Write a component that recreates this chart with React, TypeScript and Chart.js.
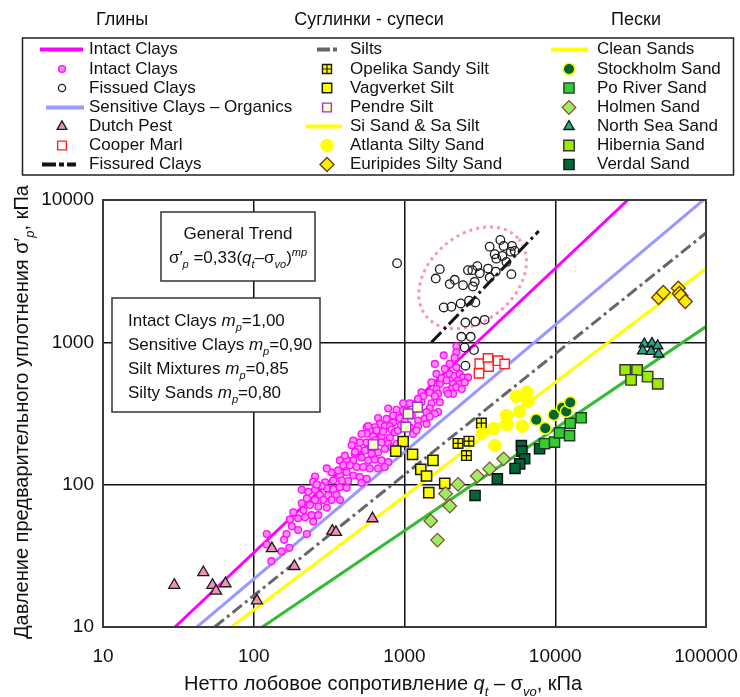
import React, { useEffect, useRef } from "react";
import { Chart, registerables } from "chart.js";

Chart.register(...registerables);

const FONT = '"Liberation Sans", Arial, Helvetica, sans-serif';

// ---- axes ----
const X_TICKS = [10, 100, 1000, 10000, 100000];
const Y_TICKS = [10, 100, 1000, 10000];
const X_LABELS = ["10", "100", "1000", "10000", "100000"];
const Y_LABELS = ["10", "100", "1000", "10000"];

type P = [number, number];

// ---- trend lines (end points) ----
const intactLine: P[] = [[30, 10], [30300, 10000]];
const sensitiveLine: P[] = [[42, 10], [96000, 10000]];
const siltsLine: P[] = [[55, 10], [100000, 5870]];
const siSandLine: P[] = [[71, 10], [100000, 3300]];
const cleanSandLine: P[] = [[114, 10], [100000, 1290]];
const fissuredLine: P[] = [[1510, 1000], [7780, 6050]];

// ---- data sets ----
const intactClays: P[] = [
  [2210, 936], [2210, 850], [2150, 780], [1820, 810], [1590, 705], [1995, 705], [2210, 667], [1850, 650],
  [1630, 600], [1995, 600], [2150, 580], [2323, 600], [2440, 567], [2640, 567], [2260, 538], [2100, 510],
  [2323, 510], [2510, 523], [2050, 471], [2210, 484], [1900, 458], [2100, 435], [1945, 435], [1510, 523],
  [1714, 510], [1471, 445], [1630, 471], [1670, 436], [1295, 445], [1330, 418], [1587, 418],
  [1510, 373], [1714, 380], [1471, 344], [1670, 324], [1587, 315], [1295, 379], [1200, 341], [1400, 323],
  [1360, 290], [1471, 300], [1230, 282], [1400, 267], [1230, 258], [980, 373], [1084, 373], [885, 336],
  [980, 332], [780, 343], [840, 306], [668, 294], [760, 290], [840, 273], [931, 294], [686, 267], [740, 258],
  [636, 253], [561, 253], [589, 240], [652, 240], [799, 258], [820, 244], [561, 228], [620, 218], [704, 218],
  [799, 214], [1140, 227], [1200, 240], [1084, 253], [574, 258], [722, 236], [862, 233], [519, 227],
  [779, 193], [704, 198], [561, 198], [506, 198], [457, 204],
  [446, 189], [493, 178], [546, 174], [668, 169], [740, 178], [604, 165], [373, 148], [413, 150], [457, 148],
  [519, 155], [574, 148], [636, 150], [704, 148], [392, 137], [434, 137], [481, 133], [532, 133], [589, 130],
  [668, 130], [328, 122], [373, 116], [413, 122], [457, 116], [506, 113], [561, 110], [255, 114], [248, 105],
  [297, 104], [337, 107], [423, 106], [519, 103], [402, 160], [468, 165], [305, 130],
  [305, 94], [337, 93], [373, 96], [413, 95], [255, 92], [208, 92], [275, 85], [312, 84], [354, 85], [225, 80],
  [255, 78], [289, 78], [328, 78], [236, 72], [268, 70], [305, 69], [208, 74], [214, 66], [183, 64], [197, 58],
  [174, 57], [219, 59], [179, 51], [197, 48], [165, 45], [159, 41], [153, 34], [122, 45], [122, 38], [131, 29],
  [242, 61], [248, 55], [268, 61], [225, 45], [172, 36],
  [820, 183], [885, 193], [779, 144], [740, 133], [363, 126], [384, 107], [230, 89], [373, 78], [907, 240],
  [1005, 282], [1118, 306], [1760, 560], [1900, 540], [2400, 470], [1230, 400], [1050, 310], [950, 262],
  [640, 205], [470, 170], [620, 185], [282, 98], [262, 100],
];

const fissuredClays: P[] = [
  [893, 3597], [1714, 3266], [1611, 2806], [1995, 2565], [2153, 2750], [2444, 2523], [2845, 2468], [2922, 2660],
  [2636, 3214], [2818, 3214], [3041, 3428], [3155, 3062], [3581, 3297], [4027, 3141], [3672, 2853], [3672, 4700],
  [4323, 5234], [4545, 4754], [5164, 4754], [3963, 4160], [4064, 3873], [4456, 4045], [4742, 3675], [5063, 4338],
  [5380, 4385], [5116, 3013], [1820, 1758], [2047, 1778], [2358, 1876], [2679, 1959], [2952, 1905], [2535, 1377],
  [2952, 1400], [3401, 1439], [2383, 1094], [2748, 1094], [2506, 920], [2891, 883], [2535, 685],
];

const dutchPest: P[] = [
  [29.7, 19.7], [46.3, 24.2], [53.2, 19.7], [56.2, 17.9], [64.9, 20.2], [105, 15.3], [132, 35.6],
  [186, 26.7], [332, 47.3], [351, 46.3], [613, 57.8],
];
const cooperMarl: P[] = [[3155, 708], [3120, 605], [3580, 771], [3615, 675], [4165, 743], [4617, 705]];
const opelika: P[] = [[3236, 271], [2265, 195], [2674, 202], [2576, 160]];
const vagverket: P[] = [
  [980, 201], [875, 172], [1130, 163], [1545, 148], [1282, 128], [1400, 115], [1849, 102], [1449, 88],
];
const pendre: P[] = [[620, 191], [1057, 315], [1219, 350], [1021, 254]];
const atlanta: P[] = [
  [5520, 416], [6490, 446], [6590, 385], [4740, 306], [5800, 326], [4790, 265], [6040, 258], [3920, 247],
  [3265, 230], [3980, 188],
];
const euripides: P[] = [[48500, 2066], [52100, 2239], [65500, 2400], [66500, 2203], [68200, 2123], [72900, 1935]];
const stockholm: P[] = [[7480, 286], [8590, 249], [9790, 310], [11130, 347], [11830, 327], [12570, 378]];
const poRiver: P[] = [[8490, 194], [9890, 199], [10670, 231], [12440, 221], [12570, 270], [14860, 295]];
const holmen: P[] = [
  [1493, 55.6], [1655, 40.8], [1871, 86.5], [1997, 70.8], [2265, 100.5], [3035, 115], [3670, 129], [4545, 152],
];
const northSea: P[] = [[39000, 973], [43850, 982], [47800, 946], [38000, 873], [43250, 863], [48550, 828]];
const hibernia: P[] = [[29100, 640], [34900, 640], [31860, 545], [41000, 574], [47840, 511]];
const verdal: P[] = [
  [5960, 188], [6010, 172], [6270, 152], [5810, 140], [5410, 130], [7870, 179], [4130, 110], [2937, 84],
];

// dotted ellipse round the fissured clays (centre in data units, radii in decades)
const ELLIPSE_CENTER: P = [2830, 2840];
const ELLIPSE_R = [0.4, 0.285];
const ELLIPSE_ANGLE = -40;

// ---- styles ----
type Shape = "circle" | "rect" | "triangle" | "diamond";
type MStyle = { shape: Shape; r: number; fill: string; stroke: string; lw: number; cross?: boolean };

const M_INTACT: MStyle = { shape: "circle", r: 3.4, fill: "#ff8cf2", stroke: "#ff10ff", lw: 1.4 };
const M_FISSURED: MStyle = { shape: "circle", r: 4.3, fill: "rgba(255,255,255,0)", stroke: "#1a1a1a", lw: 1.3 };
const M_DUTCH: MStyle = { shape: "triangle", r: 6.4, fill: "#f08fb8", stroke: "#1a1a1a", lw: 1.3 };
const M_COOPER: MStyle = { shape: "rect", r: 6.6, fill: "#ffffff", stroke: "#ff2020", lw: 1.4 };
const M_OPELIKA: MStyle = { shape: "rect", r: 6.8, fill: "#ffff00", stroke: "#1a1a1a", lw: 1.4, cross: true };
const M_VAG: MStyle = { shape: "rect", r: 7.2, fill: "#ffff00", stroke: "#1a1a1a", lw: 1.5 };
const M_PENDRE: MStyle = { shape: "rect", r: 6.8, fill: "#ffffcc", stroke: "#9933cc", lw: 1.4 };
const M_ATLANTA: MStyle = { shape: "circle", r: 6.3, fill: "#ffff00", stroke: "#ffff00", lw: 1 };
const M_EURIP: MStyle = { shape: "diamond", r: 7, fill: "#ffee00", stroke: "#6b3a10", lw: 1.3 };
const M_STOCK: MStyle = { shape: "circle", r: 5.8, fill: "#006633", stroke: "#ffff00", lw: 1.5 };
const M_PO: MStyle = { shape: "rect", r: 7.2, fill: "#33cc33", stroke: "#1f3d1f", lw: 1.4 };
const M_HOLMEN: MStyle = { shape: "diamond", r: 6.8, fill: "#99ee66", stroke: "#8a4a2a", lw: 1.2 };
const M_NORTH: MStyle = { shape: "triangle", r: 6, fill: "#22aa88", stroke: "#111111", lw: 1.3 };
const M_HIB: MStyle = { shape: "rect", r: 7.4, fill: "#99ee00", stroke: "#333333", lw: 1.4 };
const M_VERDAL: MStyle = { shape: "rect", r: 7.2, fill: "#006633", stroke: "#111111", lw: 1.4 };

const C_MAGENTA = "#ff00ff";
const C_LAVENDER = "#9999ff";
const C_GRAY = "#666666";
const C_YELLOW = "#ffff00";
const C_GREEN = "#33bb33";
const C_BLACK = "#141414";
const DASH_GRAY = [12, 4, 3, 4];
const DASH_BLACK = [14, 4, 3, 4];

const pts = (a: P[]) => a.map(([x, y]) => ({ x, y }));
const PSTYLE: Record<Shape, string> = { circle: "circle", rect: "rect", triangle: "triangle", diamond: "rectRot" };

function scatterDs(label: string, data: P[], m: MStyle, order = 0) {
  return {
    label,
    data: pts(data),
    showLine: false,
    pointStyle: PSTYLE[m.shape],
    pointRadius: m.r,
    pointHoverRadius: m.r,
    pointBackgroundColor: m.fill,
    pointBorderColor: m.stroke,
    pointBorderWidth: m.lw,
    backgroundColor: m.fill,
    borderColor: m.stroke,
    order,
  };
}
function lineDs(label: string, data: P[], color: string, dash: number[] = []) {
  return {
    label,
    data: pts(data),
    showLine: true,
    pointRadius: 0,
    pointHoverRadius: 0,
    borderColor: color,
    borderWidth: 3,
    borderDash: dash,
    fill: false,
    order: 10,
  };
}

// ---- rich text ----
type Seg = { t: string; it?: boolean; sub?: boolean; sup?: boolean };
function segFont(s: Seg, size: number) {
  const sz = s.sub || s.sup ? Math.round(size * 0.66) : size;
  return `${s.it ? "italic " : ""}${sz}px ${FONT}`;
}
function richWidth(ctx: CanvasRenderingContext2D, segs: Seg[], size: number) {
  let w = 0;
  for (const s of segs) {
    ctx.font = segFont(s, size);
    w += ctx.measureText(s.t).width;
  }
  return w;
}
function drawRich(ctx: CanvasRenderingContext2D, segs: Seg[], x: number, y: number, size: number, align: "left" | "center") {
  const w = richWidth(ctx, segs, size);
  let cx = align === "center" ? x - w / 2 : x;
  ctx.textAlign = "left";
  ctx.textBaseline = "alphabetic";
  for (const s of segs) {
    ctx.font = segFont(s, size);
    const dy = s.sub ? size * 0.3 : s.sup ? -size * 0.42 : 0;
    ctx.fillText(s.t, cx, y + dy);
    cx += ctx.measureText(s.t).width;
  }
}

function drawMarker(ctx: CanvasRenderingContext2D, m: MStyle, x: number, y: number) {
  ctx.save();
  ctx.setLineDash([]);
  ctx.beginPath();
  const r = m.r;
  if (m.shape === "circle") ctx.arc(x, y, r, 0, Math.PI * 2);
  else if (m.shape === "rect") {
    const s = r * Math.SQRT1_2;
    ctx.rect(x - s, y - s, 2 * s, 2 * s);
  } else if (m.shape === "triangle") {
    ctx.moveTo(x, y - r);
    ctx.lineTo(x + r * 0.866, y + r / 2);
    ctx.lineTo(x - r * 0.866, y + r / 2);
    ctx.closePath();
  } else {
    ctx.moveTo(x - r, y);
    ctx.lineTo(x, y - r);
    ctx.lineTo(x + r, y);
    ctx.lineTo(x, y + r);
    ctx.closePath();
  }
  ctx.fillStyle = m.fill;
  ctx.fill();
  ctx.lineWidth = m.lw;
  ctx.strokeStyle = m.stroke;
  ctx.stroke();
  if (m.cross) {
    const s = r * Math.SQRT1_2;
    ctx.beginPath();
    ctx.moveTo(x - s, y);
    ctx.lineTo(x + s, y);
    ctx.moveTo(x, y - s);
    ctx.lineTo(x, y + s);
    ctx.lineWidth = 1.2;
    ctx.stroke();
  }
  ctx.restore();
}

function drawLegendLine(ctx: CanvasRenderingContext2D, x0: number, x1: number, y: number, color: string, dash: number[] = [], lw = 4) {
  ctx.save();
  ctx.beginPath();
  ctx.setLineDash(dash);
  ctx.moveTo(x0, y);
  ctx.lineTo(x1, y);
  ctx.strokeStyle = color;
  ctx.lineWidth = lw;
  ctx.stroke();
  ctx.restore();
}

type LegendItem = { text: string; line?: { color: string; dash?: number[]; x0: number; x1: number }; marker?: MStyle };

const LEGEND_ROWS = [49.5, 69, 88, 107.5, 126.5, 145.5, 164.5];
const LEGEND_COLS: { mx: number; tx: number; items: LegendItem[] }[] = [
  {
    mx: 62,
    tx: 89,
    items: [
      { text: "Intact Clays", line: { color: C_MAGENTA, x0: 40, x1: 83 } },
      { text: "Intact Clays", marker: M_INTACT },
      { text: "Fissued Clays", marker: { ...M_FISSURED, r: 3.6 } },
      { text: "Sensitive Clays – Organics", line: { color: C_LAVENDER, x0: 46, x1: 84 } },
      { text: "Dutch Pest", marker: { ...M_DUTCH, r: 5.6 } },
      { text: "Cooper Marl", marker: { ...M_COOPER, r: 6.2 } },
      { text: "Fissured Clays", line: { color: C_BLACK, dash: [14, 3, 5, 3], x0: 42, x1: 76 } },
    ],
  },
  {
    mx: 327,
    tx: 350,
    items: [
      { text: "Silts", line: { color: C_GRAY, dash: [13, 3, 4, 50], x0: 317, x1: 338 } },
      { text: "Opelika Sandy Silt", marker: { ...M_OPELIKA, r: 6.4 } },
      { text: "Vagverket Silt", marker: { ...M_VAG, r: 6.6 } },
      { text: "Pendre Silt", marker: { ...M_PENDRE, r: 6.2 } },
      { text: "Si Sand & Sa Silt", line: { color: C_YELLOW, x0: 306, x1: 342 } },
      { text: "Atlanta Silty Sand", marker: M_ATLANTA },
      { text: "Euripides Silty Sand", marker: M_EURIP },
    ],
  },
  {
    mx: 569,
    tx: 597,
    items: [
      { text: "Clean Sands", line: { color: C_YELLOW, x0: 551, x1: 588 } },
      { text: "Stockholm Sand", marker: M_STOCK },
      { text: "Po River Sand", marker: M_PO },
      { text: "Holmen Sand", marker: M_HOLMEN },
      { text: "North Sea Sand", marker: M_NORTH },
      { text: "Hibernia Sand", marker: M_HIB },
      { text: "Verdal Sand", marker: M_VERDAL },
    ],
  },
];
const HEADERS: { text: string; x: number }[] = [
  { text: "Глины", x: 122 },
  { text: "Суглинки - супеси", x: 369 },
  { text: "Пески", x: 636 },
];

const decor = {
  id: "decor",
  beforeDatasetsDraw(chart: any) {
    const { ctx, scales } = chart;
    const x = scales.x;
    const y = scales.y;
    const dec = x.getPixelForValue(100) - x.getPixelForValue(10);
    ctx.save();
    ctx.beginPath();
    ctx.ellipse(
      x.getPixelForValue(ELLIPSE_CENTER[0]),
      y.getPixelForValue(ELLIPSE_CENTER[1]),
      ELLIPSE_R[0] * dec,
      ELLIPSE_R[1] * dec,
      (ELLIPSE_ANGLE * Math.PI) / 180,
      0,
      Math.PI * 2
    );
    ctx.setLineDash([3, 4]);
    ctx.lineWidth = 3;
    ctx.strokeStyle = "#ff8fc8";
    ctx.stroke();
    ctx.restore();
  },
  afterDatasetsDraw(chart: any) {
    const { ctx, chartArea: a } = chart;
    ctx.save();
    // plot frame
    ctx.strokeStyle = "#3a3a3a";
    ctx.lineWidth = 2;
    ctx.strokeRect(a.left, a.top, a.right - a.left, a.bottom - a.top);

    // text boxes
    ctx.fillStyle = "#ffffff";
    ctx.strokeStyle = "#333333";
    ctx.lineWidth = 1.5;
    ctx.fillRect(161, 212, 154, 69);
    ctx.strokeRect(161, 212, 154, 69);
    ctx.fillRect(112, 298, 208, 114);
    ctx.strokeRect(112, 298, 208, 114);

    ctx.fillStyle = "#111111";
    ctx.font = `17px ${FONT}`;
    ctx.textAlign = "center";
    ctx.textBaseline = "alphabetic";
    ctx.fillText("General Trend", 238, 239);
    drawRich(
      ctx,
      [
        { t: "σ′" },
        { t: "p", it: true, sub: true },
        { t: " =0,33(" },
        { t: "q", it: true },
        { t: "t", it: true, sub: true },
        { t: "–σ" },
        { t: "vo", it: true, sub: true },
        { t: ")" },
        { t: "mp", it: true, sup: true },
      ],
      238,
      263,
      17,
      "center"
    );
    const rows: [string, string][] = [
      ["Intact Clays ", "=1,00"],
      ["Sensitive Clays ", "=0,90"],
      ["Silt Mixtures ", "=0,85"],
      ["Silty Sands ", "=0,80"],
    ];
    rows.forEach(([a1, b1], i) => {
      drawRich(ctx, [{ t: a1 }, { t: "m", it: true }, { t: "p", it: true, sub: true }, { t: b1 }], 128, 326 + i * 24, 17, "left");
    });
    ctx.restore();
  },
  afterDraw(chart: any) {
    const { ctx, scales } = chart;
    const x = scales.x;
    const y = scales.y;
    ctx.save();
    ctx.fillStyle = "#111111";
    // tick labels
    ctx.font = `19px ${FONT}`;
    ctx.textAlign = "center";
    ctx.textBaseline = "middle";
    X_TICKS.forEach((v, i) => ctx.fillText(X_LABELS[i], x.getPixelForValue(v), 657));
    ctx.textAlign = "right";
    Y_TICKS.forEach((v, i) => ctx.fillText(Y_LABELS[i], 94, y.getPixelForValue(v)));

    // axis titles
    drawRich(
      ctx,
      [
        { t: "Нетто лобовое сопротивление " },
        { t: "q", it: true },
        { t: "t", it: true, sub: true },
        { t: " – σ" },
        { t: "vo", it: true, sub: true },
        { t: ", кПа" },
      ],
      383,
      690,
      20,
      "center"
    );
    ctx.save();
    ctx.translate(28, 412);
    ctx.rotate(-Math.PI / 2);
    drawRich(
      ctx,
      [{ t: "Давление предварительного уплотнения σ′" }, { t: "p", it: true, sub: true }, { t: ", кПа" }],
      0,
      0,
      20,
      "center"
    );
    ctx.restore();

    // legend headers
    ctx.font = `18px ${FONT}`;
    ctx.textAlign = "center";
    ctx.textBaseline = "middle";
    HEADERS.forEach((h) => ctx.fillText(h.text, h.x, 20));

    // legend box
    ctx.strokeStyle = "#222222";
    ctx.lineWidth = 1.5;
    ctx.strokeRect(22.5, 38, 711, 137);

    LEGEND_COLS.forEach((col) => {
      col.items.forEach((it, i) => {
        const yy = LEGEND_ROWS[i];
        if (it.line) drawLegendLine(ctx, it.line.x0, it.line.x1, yy, it.line.color, it.line.dash || []);
        if (it.marker) drawMarker(ctx, it.marker, col.mx, yy);
        ctx.fillStyle = "#111111";
        ctx.font = `17px ${FONT}`;
        ctx.textAlign = "left";
        ctx.textBaseline = "middle";
        ctx.fillText(it.text, col.tx, yy);
      });
    });
    ctx.restore();
  },
};

export default function App() {
  const ref = useRef<HTMLCanvasElement>(null);
  useEffect(() => {
    if (!ref.current) return;
    const datasets: any[] = [
      // crosses of the Opelika squares on top
      {
        label: "Opelika cross",
        data: pts(opelika),
        showLine: false,
        pointStyle: "cross",
        pointRadius: M_OPELIKA.r * Math.SQRT1_2,
        pointHoverRadius: M_OPELIKA.r * Math.SQRT1_2,
        pointBorderColor: "#111111",
        pointBorderWidth: 1.2,
        order: -1,
      },
      scatterDs("Euripides Silty Sand", euripides, M_EURIP),
      scatterDs("Hibernia Sand", hibernia, M_HIB),
      scatterDs("North Sea Sand", northSea, M_NORTH),
      scatterDs("Stockholm Sand", stockholm, M_STOCK),
      scatterDs("Po River Sand", poRiver, M_PO),
      scatterDs("Verdal Sand", verdal, M_VERDAL),
      scatterDs("Holmen Sand", holmen, M_HOLMEN),
      scatterDs("Atlanta Silty Sand", atlanta, M_ATLANTA),
      scatterDs("Opelika Sandy Silt", opelika, M_OPELIKA),
      scatterDs("Vagverket Silt", vagverket, M_VAG),
      scatterDs("Pendre Silt", pendre, M_PENDRE),
      scatterDs("Cooper Marl", cooperMarl, M_COOPER),
      scatterDs("Dutch Pest", dutchPest, M_DUTCH),
      scatterDs("Fissued Clays", fissuredClays, M_FISSURED),
      scatterDs("Intact Clays", intactClays, M_INTACT),
      lineDs("Fissured Clays", fissuredLine, C_BLACK, DASH_BLACK),
      lineDs("Intact Clays line", intactLine, C_MAGENTA),
      lineDs("Sensitive Clays – Organics", sensitiveLine, C_LAVENDER),
      lineDs("Silts", siltsLine, C_GRAY, DASH_GRAY),
      lineDs("Si Sand & Sa Silt", siSandLine, C_YELLOW),
      lineDs("Clean Sands", cleanSandLine, C_GREEN),
    ];
    const chart = new Chart(ref.current, {
      type: "scatter",
      data: { datasets },
      options: {
        animation: false,
        responsive: false,
        maintainAspectRatio: false,
        devicePixelRatio: 1,
        events: [],
        layout: { padding: { top: 200, right: 34, left: 0, bottom: 0 } },
        plugins: { legend: { display: false }, tooltip: { enabled: false }, title: { display: false } },
        scales: {
          x: {
            type: "logarithmic",
            min: 10,
            max: 100000,
            ticks: { display: false },
            grid: { color: "#111111", lineWidth: 1.5, drawTicks: false },
            border: { display: false },
            afterBuildTicks: (s: any) => {
              s.ticks = X_TICKS.map((v) => ({ value: v }));
            },
            afterFit: (s: any) => {
              s.height = 70;
            },
          },
          y: {
            type: "logarithmic",
            min: 10,
            max: 10000,
            ticks: { display: false },
            grid: { color: "#111111", lineWidth: 1.5, drawTicks: false },
            border: { display: false },
            afterBuildTicks: (s: any) => {
              s.ticks = Y_TICKS.map((v) => ({ value: v }));
            },
            afterFit: (s: any) => {
              s.width = 103;
            },
          },
        },
      } as any,
      plugins: [decor],
    });
    return () => chart.destroy();
  }, []);
  return (
    <div style={{ position: "fixed", left: 0, top: 0, width: 740, height: 697, background: "#ffffff" }}>
      <canvas ref={ref} width={740} height={697} style={{ width: 740, height: 697, display: "block" }} />
    </div>
  );
}
